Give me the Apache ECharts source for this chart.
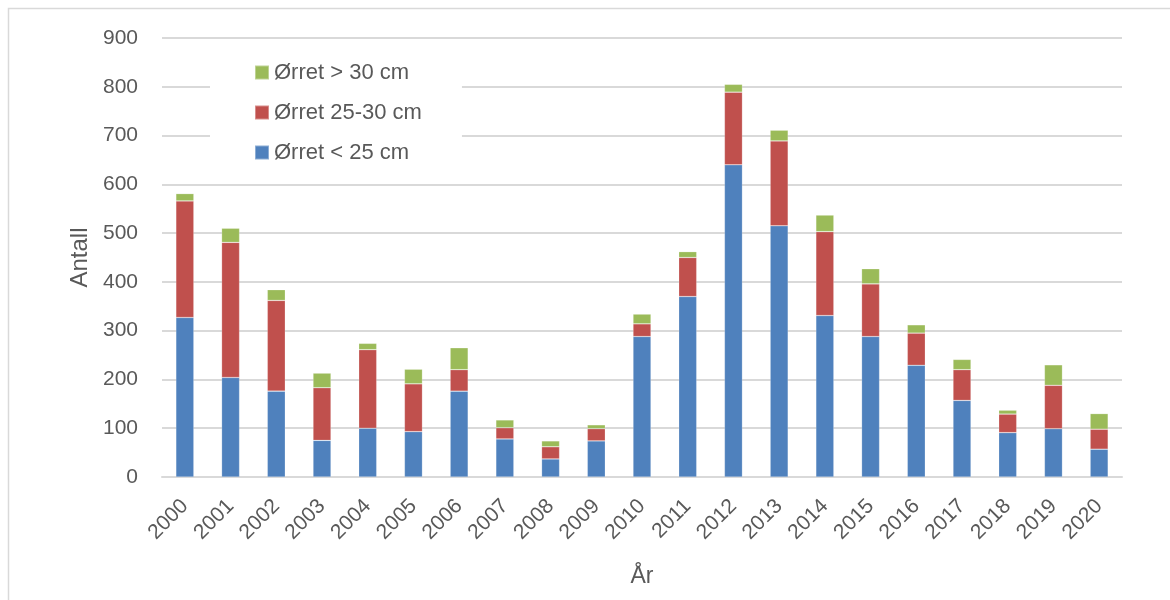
<!DOCTYPE html>
<html>
<head>
<meta charset="utf-8">
<title>Ørret</title>
<script src="https://cdn.jsdelivr.net/npm/echarts@6/dist/echarts.min.js"></script>
<style>
  html, body { margin: 0; padding: 0; background: #fff; }
  #chart { width: 1170px; height: 600px; }
</style>
</head>
<body>
<div id="chart"></div>
<script>
// Årlig fangst av ørret fordelt på lengdegrupper
const years = ['2000','2001','2002','2003','2004','2005','2006','2007','2008','2009','2010',
               '2011','2012','2013','2014','2015','2016','2017','2018','2019','2020'];
const under25 = [327, 204, 176, 75, 100, 93, 176, 78, 37, 74, 288, 370, 640, 515, 331, 288, 229, 157, 91, 99, 57];
const from25to30 = [239, 277, 186, 108, 161, 98, 44, 23, 25, 25, 26, 80, 149, 174, 172, 108, 66, 63, 38, 89, 41];
const over30 = [15, 29, 22, 30, 13, 30, 45, 16, 12, 8, 20, 12, 16, 22, 34, 31, 17, 21, 8, 42, 32];
const yTicks = { min: 0, max: 900, interval: 100 };

const names = ['Ørret < 25 cm', 'Ørret 25-30 cm', 'Ørret > 30 cm'];
const colors = ['#4F81BD', '#C0504D', '#9BBB59'];
const font = '"Liberation Sans", Arial, sans-serif';
const textColor = '#595959';

const chart = echarts.init(document.getElementById('chart'), null, { renderer: 'canvas' });

const seriesData = [under25, from25to30, over30];

chart.setOption({
  animation: false,
  backgroundColor: '#fff',
  textStyle: { fontFamily: font, color: textColor },
  graphic: [{
    type: 'rect',
    z: -10,
    shape: { x: 8.5, y: 8.5, width: 1300, height: 800 },
    style: { fill: 'none', stroke: '#d9d9d9', lineWidth: 1.5 }
  }],
  grid: { left: 162, right: 48, top: 38, bottom: 123 },
  legend: {
    orient: 'vertical',
    left: 210,
    top: 50,
    padding: [10, 40, 12, 44],
    backgroundColor: '#fff',
    itemWidth: 14,
    itemHeight: 14,
    itemGap: 15,
    icon: 'rect',
    data: [names[2], names[1], names[0]],
    textStyle: { fontFamily: font, fontSize: 22, lineHeight: 25, color: textColor }
  },
  xAxis: {
    type: 'category',
    data: years,
    name: 'År',
    nameLocation: 'middle',
    nameGap: 88,
    nameTextStyle: { fontFamily: font, fontSize: 23, color: textColor },
    axisLine: { lineStyle: { color: '#d9d9d9', width: 2 } },
    axisTick: { show: false },
    axisLabel: {
      rotate: 45,
      margin: 26,
      fontFamily: font,
      fontSize: 21,
      color: textColor,
      interval: 0
    }
  },
  yAxis: {
    type: 'value',
    min: yTicks.min,
    max: yTicks.max,
    interval: yTicks.interval,
    name: 'Antall',
    nameLocation: 'middle',
    nameGap: 70,
    nameTextStyle: { fontFamily: font, fontSize: 24, color: textColor },
    axisLine: { show: false },
    axisTick: { show: false },
    axisLabel: { margin: 24, fontFamily: font, fontSize: 21, color: textColor },
    splitLine: { lineStyle: { color: '#d9d9d9', width: 2 } }
  },
  series: names.map((n, i) => ({
    name: n,
    type: 'bar',
    stack: 'total',
    barWidth: 18,
    data: seriesData[i],
    itemStyle: { color: colors[i], borderColor: 'rgba(255,255,255,0.35)', borderWidth: 0.6 }
  }))
});
</script>
</body>
</html>
